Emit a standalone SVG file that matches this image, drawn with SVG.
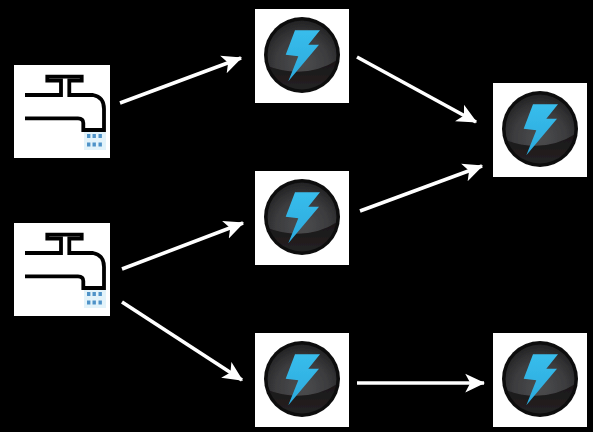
<svg xmlns="http://www.w3.org/2000/svg" width="593" height="432" viewBox="0 0 593 432">
<style>
.tile{fill:#fff}
.pipe{fill:none;stroke:#000;stroke-width:3.8;stroke-linejoin:miter}
.drop{fill:#4f93c8}
.edge{fill:none;stroke:#fff;stroke-width:3.6;marker-end:url(#head)}
</style>
<defs>
<filter id="soft" x="-10%" y="-10%" width="120%" height="120%"><feGaussianBlur stdDeviation=".7"/></filter>
<filter id="soft2" x="-10%" y="-10%" width="120%" height="120%"><feGaussianBlur stdDeviation=".4"/></filter>
<clipPath id="discclip"><circle cx="47" cy="46" r="34.500"/></clipPath>
<marker id="head" markerUnits="userSpaceOnUse" markerWidth="20" markerHeight="20" refX="15" refY="8" orient="auto" viewBox="0 0 16 16"><path d="M0 .5L16 8L0 15.500L4 8Z" fill="#fff"/></marker>
<radialGradient id="disc" cx=".5" cy=".62" r=".62"><stop offset="0" stop-color="#4c4d4f"/><stop offset=".6" stop-color="#3c3c3e"/><stop offset="1" stop-color="#222223"/></radialGradient>
<linearGradient id="low" x1="0" y1="0" x2="0" y2="1"><stop offset="0" stop-color="#191617"/><stop offset="1" stop-color="#262324"/></linearGradient>
<linearGradient id="bolt" x1="0" y1="0" x2="0" y2="1"><stop offset="0" stop-color="#38bdec"/><stop offset="1" stop-color="#2ba9dc"/></linearGradient>
<g id="faucet">
<rect class="tile" width="96" height="93"/>
<rect x="70" y="66" width="22" height="19" fill="#e3f3fa"/>
<path class="pipe" d="M11 30H47V15.700H33.300V11.700H67.700V15.700H55.300V30H79Q90 32 90 44V65H69.300V58Q69.300 53.300 64 53.300H11"/>
<g class="drop"><rect x="73" y="69" width="3.4" height="4"/><rect x="78.500" y="69" width="3.4" height="4"/><rect x="84.500" y="69" width="3.4" height="4"/><rect x="73" y="77.500" width="3.4" height="4"/><rect x="78.500" y="77.500" width="3.4" height="4"/><rect x="84.500" y="77.500" width="3.4" height="4"/></g>
</g>
<g id="bolttile">
<rect class="tile" width="94" height="94"/>
<circle cx="47" cy="46" r="38" fill="#111" filter="url(#soft)"/>
<g clip-path="url(#discclip)" filter="url(#soft2)">
<circle cx="47" cy="46" r="35" fill="url(#disc)"/>
<path d="M10 56Q50 72 84 50V84H10Z" fill="url(#low)"/>
</g>
<path d="M40 21.300H65L53.300 35.700H64L33.300 72.300L43.300 47.300L30.700 45.700Z" fill="url(#bolt)" filter="url(#soft2)"/>
</g>
</defs>
<rect width="593" height="432" fill="#000"/>
<g id="connectors">
<path class="edge" d="M120 103L241 58"/>
<path class="edge" d="M357 57L476 122"/>
<path class="edge" d="M360 211L482 166"/>
<path class="edge" d="M122 269L243 223"/>
<path class="edge" d="M122 302L242 380"/>
<path class="edge" d="M357 383L484 383"/>
</g>
<g id="source-1"><use href="#faucet" x="14" y="65"/></g>
<g id="source-2"><use href="#faucet" x="14" y="223"/></g>
<g id="spark-top"><use href="#bolttile" x="255" y="9"/></g>
<g id="spark-mid"><use href="#bolttile" x="255" y="171"/></g>
<g id="spark-bottom"><use href="#bolttile" x="255" y="333"/></g>
<g id="sink-top"><use href="#bolttile" x="493" y="83"/></g>
<g id="sink-bottom"><use href="#bolttile" x="493" y="333"/></g>
</svg>
